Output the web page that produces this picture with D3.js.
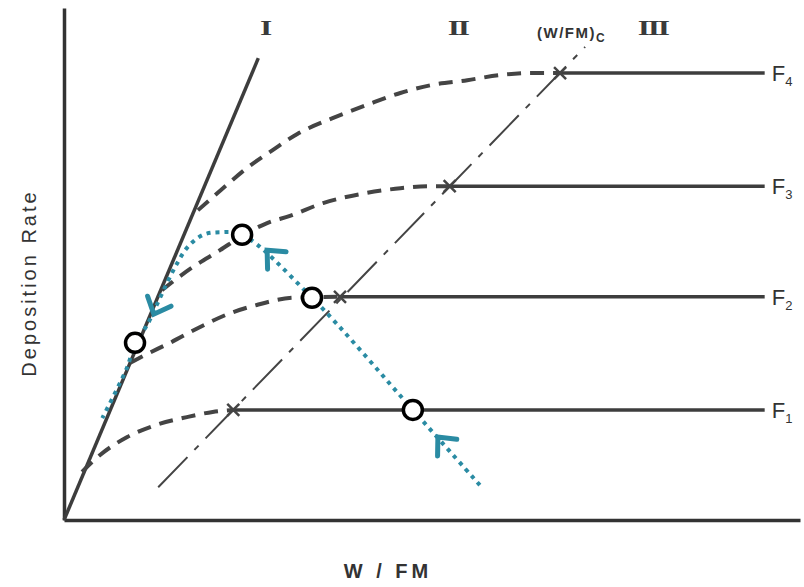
<!DOCTYPE html>
<html>
<head>
<meta charset="utf-8">
<script src="https://cdn.jsdelivr.net/npm/d3@7"></script>
<style>
  body { margin: 0; background: #fff; }
  svg { display: block; }
</style>
</head>
<body>
<div id="chart"></div>
<script>
// flow rates F1..F4: plateau deposition rate and critical W/FM
var flowNames = ['1', '2', '3', '4'];
var flowLevels = [2.15, 4.36, 6.52, 8.73];
var critX = [2.30, 3.75, 5.24, 6.74];
var plateauEnd = 9.52;

// region I line and the (W/FM)c locus
var regimeLine = [[0, 0], [2.64, 9.02]];
var critLine = [[1.28, 0.64], [7.08, 9.24]];

// dashed transition curves, from line I up to the critical point
var curveF1 = [[0.245, 0.94], [0.49, 1.27], [0.86, 1.62], [1.26, 1.86], [1.67, 2.01], [2.02, 2.11], [2.30, 2.15]];
var curveF2 = [[0.90, 3.07], [1.07, 3.20], [1.44, 3.46], [1.85, 3.77], [2.26, 4.04], [2.62, 4.20], [3.11, 4.34], [3.75, 4.36]];
var curveF3 = [[1.33, 4.49], [1.75, 4.94], [2.12, 5.27], [2.42, 5.55], [2.76, 5.80], [3.07, 5.94], [3.52, 6.19], [4.12, 6.39], [4.57, 6.48], [5.01, 6.52], [5.24, 6.52]];
var curveF4 = [[1.82, 6.05], [2.16, 6.48], [2.49, 6.88], [2.84, 7.23], [3.17, 7.54], [3.65, 7.85], [4.12, 8.11], [4.57, 8.34], [5.01, 8.50], [5.48, 8.59], [5.92, 8.69], [6.37, 8.73], [6.74, 8.73]];
var flowCurves = [curveF1, curveF2, curveF3, curveF4];

// teal operating path and its marked states
var opPath = [[5.65, 0.68], [4.74, 2.15], [3.37, 4.34], [2.42, 5.57], [2.12, 5.62], [1.89, 5.57],
  [1.68, 5.33], [1.54, 5.02], [1.40, 4.63], [1.26, 4.20], [1.13, 3.81], [0.965, 3.46], [0.86, 2.99], [0.52, 1.99]];
var opStates = [[4.74, 2.15], [3.37, 4.34], [2.42, 5.57], [0.965, 3.46]];
var opArrows = [
  { tip: [5.08, 1.62], from: [5.65, 0.68] },
  { tip: [2.76, 5.27], from: [3.37, 4.34] },
  { tip: [1.22, 4.02], from: [1.40, 4.63] }
];

var regimeNames = ['I', 'II', 'III'];
var regimeX = [2.73, 5.35, 8.00];

var width = 804, height = 587;
var lineColor = '#3d3d3d', teal = '#2a8ba3';

var svg = d3.select('#chart').append('svg')
  .attr('width', width)
  .attr('height', height);

var x = d3.scaleLinear().domain([0, 10]).range([64, 800]);
var y = d3.scaleLinear().domain([0, 10]).range([520, 8]);

var line = d3.line().x(function(d) { return x(d[0]); }).y(function(d) { return y(d[1]); });

// axes: just the two frame lines
svg.append('g')
  .attr('transform', 'translate(0,' + y(0) + ')')
  .call(d3.axisBottom(x).tickValues([]).tickSizeOuter(0));
svg.append('g')
  .attr('transform', 'translate(' + x(0) + ',0)')
  .call(d3.axisLeft(y).tickValues([]).tickSizeOuter(0));
svg.selectAll('.domain')
  .attr('stroke', '#333')
  .attr('stroke-width', 3.5);

// region I line
svg.append('path')
  .attr('d', line(regimeLine))
  .attr('fill', 'none')
  .attr('stroke', lineColor)
  .attr('stroke-width', 3.5);

// (W/FM)c locus, dash-dot
svg.append('path')
  .attr('d', line(critLine))
  .attr('fill', 'none')
  .attr('stroke', '#444')
  .attr('stroke-width', 2)
  .attr('stroke-dasharray', '42,10,6,10');

// dashed curves
svg.selectAll('.fcurve')
  .data(flowCurves)
  .enter().append('path')
  .attr('class', 'fcurve')
  .attr('d', line.curve(d3.curveMonotoneX))
  .attr('fill', 'none')
  .attr('stroke', '#444')
  .attr('stroke-width', 4)
  .attr('stroke-dasharray', '14,9');
line.curve(d3.curveLinear);

// plateaus
svg.selectAll('.plateau')
  .data(flowLevels)
  .enter().append('line')
  .attr('x1', function(d, i) { return x(critX[i]); })
  .attr('x2', x(plateauEnd))
  .attr('y1', function(d) { return y(d); })
  .attr('y2', function(d) { return y(d); })
  .attr('stroke', lineColor)
  .attr('stroke-width', 3.5);

// x marks
var marks = svg.selectAll('.mark')
  .data(flowLevels)
  .enter().append('g')
  .attr('transform', function(d, i) { return 'translate(' + x(critX[i]) + ',' + y(d) + ')'; })
  .attr('stroke', '#444')
  .attr('stroke-width', 2.5);
marks.append('line').attr('x1', -6).attr('y1', -6).attr('x2', 6).attr('y2', 6);
marks.append('line').attr('x1', -6).attr('y1', 6).attr('x2', 6).attr('y2', -6);

// F labels
var flab = svg.selectAll('.flab')
  .data(flowLevels)
  .enter().append('text')
  .attr('x', x(plateauEnd) + 7)
  .attr('y', function(d) { return y(d) + 8; })
  .attr('font-family', 'Liberation Sans, Arial, sans-serif')
  .attr('font-size', 22)
  .attr('fill', '#333');
flab.append('tspan').text('F');
flab.append('tspan').attr('font-size', 13).attr('dy', 5).text(function(d, i) { return flowNames[i]; });

// teal path
svg.append('path')
  .attr('d', line.curve(d3.curveCatmullRom.alpha(0.5))(opPath))
  .attr('fill', 'none')
  .attr('stroke', teal)
  .attr('stroke-width', 4)
  .attr('stroke-dasharray', '4,5');
line.curve(d3.curveLinear);

// arrow chevrons
opArrows.forEach(function(a) {
  var tx = x(a.tip[0]), ty = y(a.tip[1]);
  var ang = Math.atan2(y(a.from[1]) - ty, x(a.from[0]) - tx);
  var len = 19, spread = 42 * Math.PI / 180;
  var pts = [
    [tx + len * Math.cos(ang - spread), ty + len * Math.sin(ang - spread)],
    [tx, ty],
    [tx + len * Math.cos(ang + spread), ty + len * Math.sin(ang + spread)]
  ];
  svg.append('path')
    .attr('d', d3.line()(pts))
    .attr('fill', 'none')
    .attr('stroke', teal)
    .attr('stroke-width', 5)
    .attr('stroke-linecap', 'round')
    .attr('stroke-linejoin', 'miter');
});

// open circles
svg.selectAll('.state')
  .data(opStates)
  .enter().append('circle')
  .attr('cx', function(d) { return x(d[0]); })
  .attr('cy', function(d) { return y(d[1]); })
  .attr('r', 9.5)
  .attr('fill', '#fff')
  .attr('stroke', '#000')
  .attr('stroke-width', 3.5);

// regime labels, serif roman numerals stretched wide
svg.selectAll('.regime')
  .data(regimeNames)
  .enter().append('text')
  .attr('transform', function(d, i) { return 'translate(' + x(regimeX[i]) + ',35) scale(1.5,1)'; })
  .attr('text-anchor', 'middle')
  .attr('font-family', 'Liberation Serif, Times New Roman, serif')
  .attr('font-weight', 'bold')
  .attr('font-size', 21)
  .attr('letter-spacing', -1.5)
  .attr('fill', '#3a3a3a')
  .text(function(d) { return d; });

// (W/FM)c label
var clab = svg.append('text')
  .attr('x', 537)
  .attr('y', 38)
  .attr('font-family', 'Liberation Sans, Arial, sans-serif')
  .attr('font-weight', 'bold')
  .attr('font-size', 15)
  .attr('letter-spacing', 1.5)
  .attr('fill', '#333');
clab.append('tspan').text('(W/FM)');
clab.append('tspan').attr('font-size', 12).attr('dy', 4).text('C');

// axis titles
svg.append('text')
  .attr('transform', 'translate(36,283) rotate(-90)')
  .attr('text-anchor', 'middle')
  .attr('font-family', 'Liberation Sans, Arial, sans-serif')
  .attr('font-size', 20)
  .attr('letter-spacing', 3)
  .attr('fill', '#333')
  .text('Deposition  Rate');

svg.append('text')
  .attr('x', 388)
  .attr('y', 578)
  .attr('text-anchor', 'middle')
  .attr('font-family', 'Liberation Sans, Arial, sans-serif')
  .attr('font-weight', 'bold')
  .attr('font-size', 20)
  .attr('letter-spacing', 4)
  .attr('fill', '#333')
  .text('W / FM');
</script>
</body>
</html>
